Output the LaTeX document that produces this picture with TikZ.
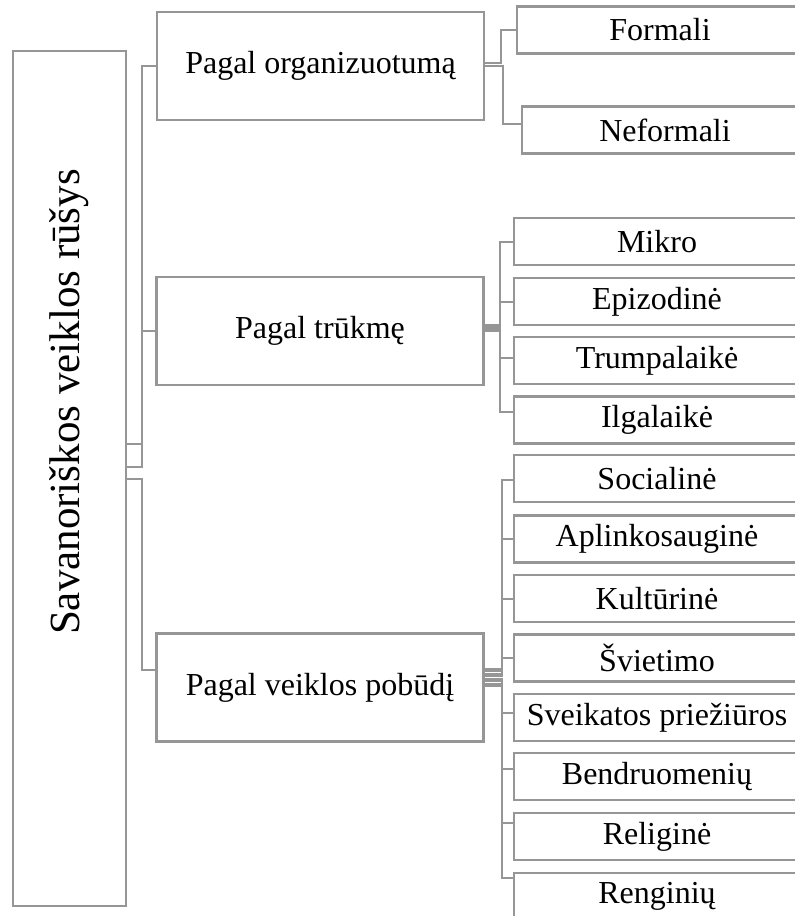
\documentclass[tikz,border=0pt]{standalone}
\usepackage{fontspec}
\setmainfont{Liberation Serif}
\definecolor{boxgray}{RGB}{150,150,150}
\tikzset{
  catbox/.style={draw=boxgray, line width=2.2pt, inner sep=0pt, font=\fontsize{32}{36}\selectfont},
  mainbox/.style={catbox, minimum width=327pt, minimum height=108pt},
  leafbox/.style={catbox, minimum width=286pt, minimum height=47pt},
  link/.style={draw=boxgray, line width=2pt},
}
\begin{document}
\begin{tikzpicture}[x=1pt,y=-1pt]
        \useasboundingbox (0,0) rectangle (795,916);
        \clip (0,0) rectangle (795,916);
        % ==== ROOT ====
        \node[catbox, minimum width=113pt, minimum height=855pt] (root) at (69.5,478.5) {};
        \node[rotate=90, font=\fontsize{43}{48}\selectfont] (rootlabel) at (69.5,402) {Savanoriškos veiklos rūšys};
        % ==== SECOND LEVEL ====
        \node[mainbox] (org) at (320.5,66) {Pagal organizuotumą};
        \node[mainbox] (tru) at (320,331) {Pagal trūkmę};
        \node[mainbox] (vei) at (320,687.5) {Pagal veiklos pobūdį};
        % ==== LEAVES ====
        \node[leafbox] (formali) at (660,30) {Formali};
        \node[leafbox] (neformali) at (665,130) {Neformali};
        \node[leafbox] (mikro) at (657,241.5) {Mikro};
        \node[leafbox] (epizod) at (657,301.5) {Epizodinė};
        \node[leafbox] (trump) at (657,360.5) {Trumpalaikė};
        \node[leafbox] (ilgal) at (657,420) {Ilgalaikė};
        \node[leafbox] (social) at (657,478.5) {Socialinė};
        \node[leafbox] (aplink) at (657,539) {Aplinkosauginė};
        \node[leafbox] (kultur) at (657,598.5) {Kultūrinė};
        \node[leafbox] (sviet) at (657,658) {Švietimo};
        \node[leafbox] (sveik) at (657,717.5) {Sveikatos priežiūros};
        \node[leafbox] (bendr) at (657,776.5) {Bendruomenių};
        \node[leafbox] (relig) at (657,836.5) {Religinė};
        \node[leafbox] (reng) at (657,896.5) {Renginių};
        % ==== ROOT LINKS ====
        \draw[link] ([yshift=35pt]root.east) -- ++(15,0) |- (org.west);
        \draw[link] ([yshift=12pt]root.east) -- ++(15,0) |- (tru.west);
        \draw[link] ([yshift=0pt]root.east) -- ++(15,0) |- ([yshift=18pt]vei.west);
        % ==== ORGANIZUOTUMAS LINKS ====
        \draw[link] ([yshift=3pt]org.east) -- ++(16,0) |- (formali.west);
        \draw[link] (org.east) -- ++(18,0) |- ([yshift=6pt]neformali.west);
        % ==== TRUKME LINKS ====
        \draw[link] ([yshift=6pt]tru.east) -- ++(15,0) |- (mikro.west);
        \draw[link] ([yshift=4pt]tru.east) -- ++(15,0) |- (epizod.west);
        \draw[link] ([yshift=2pt]tru.east) -- ++(15,0) |- ([yshift=3pt]trump.west);
        \draw[link] ([yshift=0pt]tru.east) -- ++(15,0) |- ([yshift=8pt]ilgal.west);
        % ==== POBUDIS LINKS ====
        \draw[link] ([yshift=19pt]vei.east) -- ++(17,0) |- ([yshift=-1.5pt]social.west);
        \draw[link] ([yshift=16.5pt]vei.east) -- ++(17,0) |- (aplink.west);
        \draw[link] ([yshift=14pt]vei.east) -- ++(17,0) |- (kultur.west);
        \draw[link] ([yshift=11.5pt]vei.east) -- ++(17,0) |- (sviet.west);
        \draw[link] ([yshift=9pt]vei.east) -- ++(17,0) |- ([yshift=4.5pt]sveik.west);
        \draw[link] ([yshift=6.5pt]vei.east) -- ++(17,0) |- ([yshift=7.5pt]bendr.west);
        \draw[link] ([yshift=4pt]vei.east) -- ++(17,0) |- ([yshift=13.5pt]relig.west);
        \draw[link] ([yshift=1.5pt]vei.east) -- ++(17,0) |- ([yshift=18.5pt]reng.west);
\end{tikzpicture}
\end{document}
